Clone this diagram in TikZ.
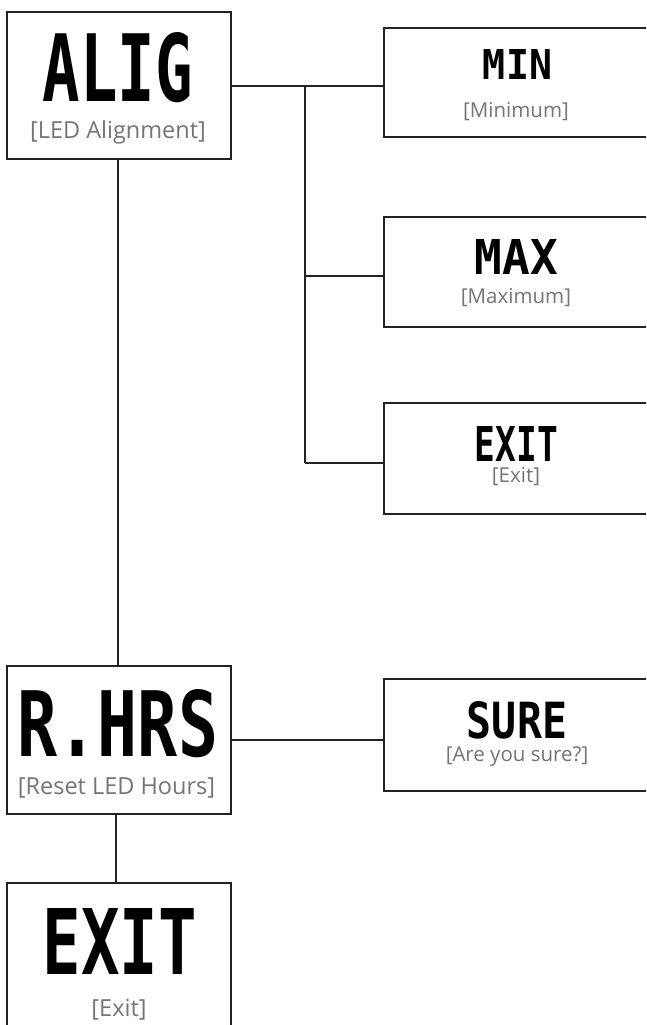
\documentclass[tikz,border=0pt]{standalone}
\usepackage{fontspec}
\usepackage{graphicx}
\newfontfamily\segfont{DejaVu Sans Mono}
\newfontfamily\capfont{Open Sans}
\definecolor{linecol}{HTML}{222222}
\definecolor{capcol}{HTML}{757575}
\begin{document}
\begin{tikzpicture}[x=1pt,y=-1pt,
  menubox/.style={draw=linecol, line width=2.6pt, fill=none, inner sep=0pt},
  bigbox/.style={menubox, minimum width=224pt},
  smallbox/.style={menubox, minimum width=276pt},
  conn/.style={draw=linecol, line width=2pt},
  bigcap/.style={inner sep=0pt, text=capcol, font=\capfont\fontsize{23.5}{27}\selectfont},
  smallcap/.style={inner sep=0pt, text=capcol, font=\capfont\fontsize{20.5}{24}\selectfont},
  seg/.style={inner sep=0pt, text=black}]
\clip (0,0) rectangle (646,1025);
\fill[white] (0,0) rectangle (646,1025);
% boxes
\node[bigbox, minimum height=147pt] (alig) at (119,85.5) {};
\node[bigbox, minimum height=148pt] (rhrs) at (119,740) {};
\node[bigbox, minimum height=147pt] (exitb) at (119,956.5) {};
\node[smallbox, minimum height=109pt] (min) at (522,82.5) {};
\node[smallbox, minimum height=110pt] (max) at (522,272) {};
\node[smallbox, minimum height=111pt] (exits) at (522,458.5) {};
\node[smallbox, minimum height=112pt] (sure) at (522,735) {};
% big labels
\node[seg] (aligT) at (118,67.5) {\resizebox{150pt}{69pt}{\segfont\bfseries ALIG}};
\node[bigcap] (aligC) at (118,132) {[LED Alignment]};
\node[seg] (rhrsT) at (118,723.5) {\resizebox{200pt}{67pt}{\segfont\bfseries R.HRS}};
\node[bigcap] (rhrsC) at (116.5,788) {[Reset LED Hours]};
\node[seg] (exitbT) at (120,941) {\resizebox{154pt}{66pt}{\segfont\bfseries EXIT}};
\node[bigcap] (exitbC) at (119,1010) {[Exit]};
% small labels
\node[seg] (minT) at (517.5,64) {\resizebox{69pt}{30pt}{\segfont\bfseries MIN}};
\node[smallcap] (minC) at (516,112) {[Minimum]};
\node[seg] (maxT) at (516.5,256.5) {\resizebox{83pt}{35pt}{\segfont\bfseries MAX}};
\node[smallcap] (maxC) at (516,298) {[Maximum]};
\node[seg] (exitsT) at (516.5,443.5) {\resizebox{83pt}{35pt}{\segfont\bfseries EXIT}};
\node[smallcap] (exitsC) at (516,477) {[Exit]};
\node[seg] (sureT) at (517,720.5) {\resizebox{100pt}{37pt}{\segfont\bfseries SURE}};
\node[smallcap] (sureC) at (517,757) {[Are you sure?]};
% connectors
\coordinate (j1) at (305,86);
\coordinate (j2) at (305,463);
\draw[conn] (alig.east) -- (alig.east -| min.west);
\draw[conn] (j1) -- (j2);
\draw[conn] ([yshift=-4pt]j1 |- max.west) -- ([yshift=-4pt]max.west);
\draw[conn] (j2) -- ([yshift=-4.5pt]exits.west);
\draw[conn] ([xshift=-1pt]alig.south) -- ([xshift=-1pt]rhrs.north);
\draw[conn] (rhrs.east) -- (rhrs.east -| sure.west);
\draw[conn] ([xshift=-3pt]rhrs.south) -- ([xshift=-3pt]exitb.north);
\end{tikzpicture}
\end{document}
